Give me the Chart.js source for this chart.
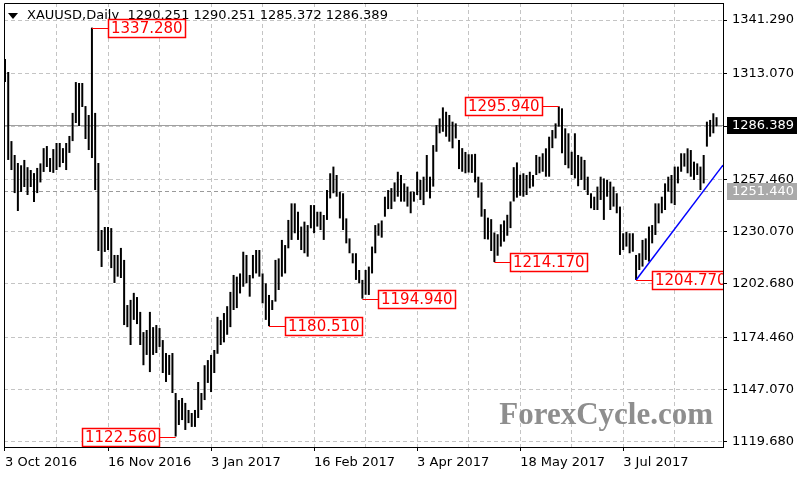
<!DOCTYPE html>
<html>
<head>
<meta charset="utf-8">
<title>XAUUSD Daily</title>
<script src="https://cdn.jsdelivr.net/npm/chart.js@4/dist/chart.umd.min.js"></script>
<style>
  html, body { margin: 0; padding: 0; background: #fff; }
  #wrap { width: 800px; height: 480px; }
</style>
</head>
<body>
<div id="wrap"><canvas id="graph" width="800" height="480"></canvas></div>
<script>
// daily highs / lows, one per bar (bar 0 = 3 Oct 2016)
const highs = [
  1320.8, 1314.0, 1277.7, 1270.4, 1266.2, 1265.0, 1267.8, 1264.0, 1262.5, 1260.9,
  1263.6, 1266.0, 1274.0, 1275.1, 1268.8, 1273.5, 1276.7, 1276.7, 1274.0, 1276.7,
  1280.4, 1292.5, 1308.7, 1308.2, 1308.2, 1296.1, 1291.4, 1337.28, 1292.5, 1266.2,
  1231.0, 1232.6, 1232.6, 1232.0, 1217.9, 1217.9, 1221.6, 1215.3, 1191.6, 1194.3,
  1198.0, 1195.8, 1188.0, 1177.4, 1178.5, 1188.0, 1180.0, 1181.1, 1179.5, 1173.2,
  1166.4, 1165.4, 1166.4, 1145.4, 1141.7, 1142.8, 1140.2, 1136.5, 1134.9, 1136.5,
  1151.2, 1145.4, 1160.0, 1162.7, 1165.4, 1168.0, 1185.4, 1183.7, 1187.4, 1191.0,
  1198.5, 1207.4, 1206.5, 1208.2, 1219.6, 1217.9, 1207.4, 1217.9, 1220.5, 1220.5,
  1208.2, 1203.0, 1196.9, 1194.2, 1215.3, 1216.1, 1225.8, 1223.1, 1236.3, 1245.0,
  1245.0, 1240.6, 1232.8, 1235.4, 1233.6, 1244.1, 1244.1, 1240.6, 1240.6, 1238.9,
  1252.0, 1260.8, 1264.3, 1259.9, 1251.1, 1250.3, 1237.1, 1226.6, 1218.8, 1218.8,
  1210.0, 1204.8, 1210.0, 1211.8, 1222.3, 1233.6, 1234.5, 1236.0, 1248.5, 1252.0,
  1253.0, 1256.0, 1261.6, 1259.9, 1255.5, 1253.8, 1251.1, 1251.1, 1261.6, 1257.3,
  1259.0, 1270.4, 1259.0, 1275.6, 1286.1, 1289.6, 1295.4, 1293.1, 1291.4, 1287.9,
  1287.0, 1278.3, 1274.0, 1272.0, 1270.8, 1270.8, 1271.0, 1259.0, 1256.0, 1242.0,
  1237.5, 1236.7, 1229.7, 1228.8, 1234.0, 1236.0, 1239.0, 1246.0, 1264.0, 1266.5,
  1260.0, 1260.8, 1259.9, 1261.6, 1259.9, 1270.4, 1269.5, 1271.3, 1273.9, 1280.0,
  1283.5, 1287.0, 1295.94, 1294.9, 1284.4, 1281.8, 1272.1, 1281.8, 1270.4, 1269.5,
  1267.8, 1259.0, 1250.3, 1248.5, 1253.8, 1259.0, 1258.1, 1257.3, 1256.4, 1253.8,
  1250.3, 1243.3, 1229.3, 1230.1, 1229.3, 1229.3, 1217.9, 1218.8, 1225.8, 1226.6,
  1232.8, 1233.6, 1245.0, 1245.0, 1248.5, 1255.5, 1259.0, 1259.9, 1264.3, 1264.3,
  1271.3, 1271.3, 1273.9, 1273.0, 1266.9, 1266.0, 1264.3, 1270.4, 1287.9, 1288.8,
  1292.3, 1290.251
];
const lows = [
  1308.7, 1267.8, 1262.5, 1250.4, 1241.0, 1251.0, 1253.6, 1249.4, 1253.6, 1245.7,
  1250.4, 1256.0, 1261.5, 1264.1, 1261.5, 1261.0, 1262.5, 1264.0, 1266.2, 1262.5,
  1271.5, 1277.7, 1287.2, 1285.6, 1295.6, 1278.8, 1273.0, 1268.8, 1252.0, 1220.0,
  1211.6, 1219.5, 1220.5, 1211.0, 1203.2, 1206.5, 1205.8, 1181.1, 1180.0, 1170.6,
  1183.8, 1181.6, 1170.6, 1160.0, 1165.4, 1156.4, 1165.4, 1166.4, 1169.6, 1155.9,
  1151.2, 1154.9, 1145.4, 1122.56, 1128.6, 1131.2, 1126.0, 1129.6, 1127.6, 1127.6,
  1132.3, 1136.5, 1141.7, 1150.7, 1145.9, 1155.9, 1166.0, 1170.6, 1172.0, 1176.0,
  1180.0, 1189.0, 1190.0, 1197.7, 1201.2, 1203.0, 1196.0, 1205.6, 1208.2, 1206.5,
  1192.5, 1183.8, 1180.51, 1189.0, 1193.4, 1199.5, 1206.5, 1208.2, 1221.4, 1225.8,
  1229.3, 1225.8, 1220.5, 1218.8, 1217.0, 1231.9, 1229.3, 1232.8, 1231.0, 1225.8,
  1236.3, 1247.6, 1250.3, 1248.5, 1237.1, 1231.0, 1224.0, 1218.8, 1213.5, 1204.8,
  1203.0, 1194.94, 1197.0, 1196.9, 1208.2, 1218.8, 1228.0, 1227.0, 1238.0, 1242.0,
  1242.0, 1245.9, 1248.5, 1245.9, 1245.9, 1243.3, 1239.8, 1245.9, 1249.4, 1246.8,
  1244.1, 1251.1, 1247.6, 1253.8, 1272.1, 1281.8, 1282.6, 1280.0, 1277.4, 1273.9,
  1279.1, 1263.0, 1261.6, 1260.8, 1261.2, 1261.0, 1256.0, 1248.0, 1238.0, 1226.2,
  1226.0, 1220.0, 1214.17, 1217.5, 1222.3, 1224.9, 1228.0, 1232.0, 1246.0, 1248.0,
  1249.0, 1248.5, 1249.4, 1252.9, 1253.8, 1259.9, 1260.8, 1261.6, 1259.0, 1259.0,
  1274.0, 1279.1, 1285.3, 1271.3, 1265.1, 1263.4, 1259.9, 1258.1, 1254.0, 1257.3,
  1252.0, 1249.4, 1242.4, 1241.5, 1241.5, 1246.8, 1236.3, 1248.5, 1241.5, 1243.3,
  1239.8, 1217.9, 1220.5, 1222.3, 1218.8, 1219.6, 1204.77, 1210.0, 1211.8, 1215.3,
  1214.4, 1224.0, 1228.4, 1234.5, 1239.8, 1241.5, 1251.1, 1245.0, 1244.1, 1255.5,
  1261.6, 1264.3, 1260.8, 1259.0, 1257.3, 1259.9, 1252.0, 1255.5, 1274.8, 1280.0,
  1281.8, 1285.372
];

// last bar O H L C (header)
const lastBar = [1290.251, 1290.251, 1285.372, 1286.389];
const symbol = 'XAUUSD,Daily';

// x axis: grid every 16 bars, date label every 32
const xTickIdx = [0, 16, 32, 48, 64, 80, 96, 112, 128, 144, 160, 176, 192, 208];
const xLabelIdx = [0, 32, 64, 96, 128, 160, 192];
const xLabels = ['3 Oct 2016', '16 Nov 2016', '3 Jan 2017', '16 Feb 2017', '3 Apr 2017', '18 May 2017', '3 Jul 2017'];

// y axis price levels
const yTicks = [1119.68, 1147.07, 1174.46, 1202.68, 1230.07, 1257.46, 1285.26, 1313.07, 1341.29];

// swing high / low marks
const markIdx = [27, 53, 82, 111, 152, 172, 196];
const markPrice = [1337.28, 1122.56, 1180.51, 1194.94, 1214.17, 1295.94, 1204.77];
const markLeft = [false, true, false, false, false, true, false];

// trend line (from the July low)
const trendX = [196, 223];
const trendY = [1204.77, 1265.1];

// horizontal level
const levelPrice = 1251.44;

const FONT = 'DejaVu Sans';
const GRID = '#c4c4c4';

const overlay = {
  id: 'overlay',
  beforeDatasetsDraw(chart) {
    const { ctx, chartArea: a, scales: { y } } = chart;
    ctx.save();
    // price line + level line
    ctx.lineWidth = 1;
    ctx.strokeStyle = '#a0a0a0';
    let py = Math.round(y.getPixelForValue(lastBar[3])) + 0.5;
    ctx.beginPath(); ctx.moveTo(a.left, py); ctx.lineTo(a.right, py); ctx.stroke();
    ctx.setLineDash([4, 3]);
    ctx.strokeStyle = '#9a9a9a';
    py = Math.round(y.getPixelForValue(levelPrice)) + 0.5;
    ctx.beginPath(); ctx.moveTo(a.left, py); ctx.lineTo(a.right, py); ctx.stroke();
    ctx.setLineDash([]);

    // watermark
    ctx.fillStyle = '#8e8e8e';
    ctx.font = 'bold 31px "Liberation Serif"';
    ctx.textAlign = 'right';
    ctx.textBaseline = 'alphabetic';
    ctx.fillText('ForexCycle.com', a.right - 10, a.bottom - 23);

    // header
    ctx.fillStyle = '#000';
    ctx.beginPath();
    ctx.moveTo(8, 13); ctx.lineTo(18, 13); ctx.lineTo(13, 19); ctx.closePath(); ctx.fill();
    ctx.font = '13px "' + FONT + '"';
    ctx.textAlign = 'left';
    ctx.textBaseline = 'middle';
    ctx.fillText(symbol + '  ' + lastBar.map(v => v.toFixed(3)).join(' '), 27, 16);
    ctx.restore();
  },
  afterDatasetsDraw(chart) {
    const { ctx, chartArea: a, scales: { x, y } } = chart;
    ctx.save();
    ctx.beginPath();
    ctx.rect(a.left, a.top, a.right - a.left, a.bottom - a.top);
    ctx.clip();
    ctx.font = '15px "' + FONT + '"';
    ctx.textBaseline = 'middle';
    ctx.textAlign = 'left';
    markIdx.forEach((idx, k) => {
      const px = x.getPixelForValue(idx);
      const py = Math.round(y.getPixelForValue(markPrice[k])) + 0.5;
      const txt = markPrice[k].toFixed(3);
      const w = Math.round(ctx.measureText(txt).width) + 6;
      const h = 19;
      const bx = markLeft[k] ? Math.round(px - 16 - w) : Math.round(px + 16);
      const by = Math.round(py - h / 2);
      ctx.strokeStyle = '#ff0000';
      ctx.lineWidth = 1;
      ctx.beginPath();
      ctx.moveTo(px, py);
      ctx.lineTo(markLeft[k] ? bx + w : bx, py);
      ctx.stroke();
      ctx.fillStyle = '#fff';
      ctx.fillRect(bx, by, w, h);
      ctx.lineWidth = 1.5;
      ctx.strokeRect(bx + 0.5, by + 0.5, w - 1, h - 1);
      ctx.fillStyle = '#ff0000';
      ctx.fillText(txt, bx + 3, by + h / 2 + 1);
    });
    ctx.restore();
  },
  afterDraw(chart) {
    const { ctx, chartArea: a, scales: { y } } = chart;
    ctx.save();
    // frame top / left
    ctx.strokeStyle = '#000';
    ctx.lineWidth = 1;
    ctx.beginPath();
    ctx.moveTo(a.left + 0.5, a.bottom); ctx.lineTo(a.left + 0.5, a.top + 0.5); ctx.lineTo(a.right, a.top + 0.5);
    ctx.stroke();
    // price boxes on the axis
    ctx.font = '13px "' + FONT + '"';
    ctx.textBaseline = 'middle';
    ctx.textAlign = 'left';
    const box = (val, bg) => {
      const py = Math.round(y.getPixelForValue(val));
      ctx.fillStyle = bg;
      ctx.fillRect(a.right + 4, py - 8, 70, 17);
      ctx.fillStyle = '#fff';
      ctx.fillText(val.toFixed(3), a.right + 9, py + 1);
    };
    box(levelPrice, '#aaaaaa');
    box(lastBar[3], '#000000');
    ctx.restore();
  }
};

const bars = highs.map((h, i) => ({ x: i, y: [lows[i], h] }));
const trend = trendX.map((v, i) => ({ x: v, y: trendY[i] }));

new Chart(document.getElementById('graph').getContext('2d'), {
  type: 'bar',
  data: {
    datasets: [
      {
        type: 'bar',
        data: bars,
        backgroundColor: '#000',
        borderWidth: 0,
        barThickness: 2,
        inflateAmount: 0,
        grouped: false,
        order: 1
      },
      {
        type: 'line',
        data: trend,
        borderColor: '#0000ff',
        borderWidth: 1.5,
        pointRadius: 0,
        fill: false,
        tension: 0,
        order: 0
      }
    ]
  },
  options: {
    responsive: false,
    animation: false,
    devicePixelRatio: 1,
    layout: { padding: { left: 4, top: 3, right: 0, bottom: 0 } },
    plugins: { legend: { display: false }, tooltip: { enabled: false } },
    scales: {
      x: {
        type: 'linear',
        position: 'bottom',
        min: -0.31,
        max: 223.0,
        offset: false,
        afterBuildTicks: s => { s.ticks = xTickIdx.map(v => ({ value: v })); },
        afterFit: s => { s.height = 33; s.paddingLeft = 0; s.paddingRight = 0; },
        ticks: {
          autoSkip: false,
          maxRotation: 0,
          minRotation: 0,
          align: 'start',
          padding: 4,
          color: '#000',
          font: { family: FONT, size: 13 },
          callback: v => {
            const k = xLabelIdx.indexOf(v);
            return k >= 0 ? xLabels[k] : '';
          }
        },
        grid: {
          color: c => (c.tick && c.tick.value === 0) ? 'rgba(0,0,0,0)' : GRID,
          lineWidth: 1,
          offset: false,
          tickLength: 4,
          tickBorderDash: [],
          tickColor: c => (c.tick && xLabelIdx.includes(c.tick.value)) ? '#000' : 'rgba(0,0,0,0)'
        },
        border: { display: true, color: '#000', width: 1, dash: [4, 3] }
      },
      y: {
        type: 'linear',
        position: 'right',
        min: 1117.05,
        max: 1350.22,
        afterBuildTicks: s => { s.ticks = yTicks.map(v => ({ value: v })); },
        afterFit: s => { s.width = 77; s.paddingTop = 0; s.paddingBottom = 0; },
        ticks: {
          padding: 5,
          color: '#000',
          font: { family: FONT, size: 13 },
          callback: v => v.toFixed(3)
        },
        grid: {
          color: GRID,
          lineWidth: 1,
          tickLength: 4,
          tickBorderDash: [],
          tickColor: '#000'
        },
        border: { display: true, color: '#000', width: 1, dash: [4, 3] }
      }
    }
  },
  plugins: [overlay]
});
</script>
</body>
</html>
